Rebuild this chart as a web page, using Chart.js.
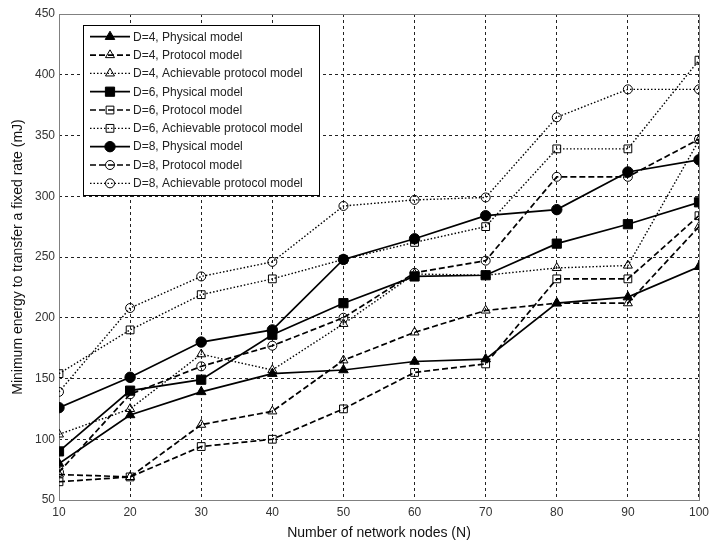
<!DOCTYPE html>
<html>
<head>
<meta charset="utf-8">
<script src="https://cdn.jsdelivr.net/npm/chart.js@4/dist/chart.umd.min.js"></script>
<style>
  html, body { margin: 0; padding: 0; background: #fff; }
</style>
</head>
<body>
<canvas id="myChart" width="714" height="544"></canvas>
<script>
// number of network nodes (x)
const nodes = [10, 20, 30, 40, 50, 60, 70, 80, 90, 100];
const yTicks = [50, 100, 150, 200, 250, 300, 350, 400, 450];

// minimum energy (mJ)
const d4Physical   = [80, 120, 139, 154, 157, 164, 166, 212, 217, 242];
const d4Protocol   = [71, 69, 112, 123, 165, 188, 206, 212, 212, 275];
const d4Achievable = [104, 125, 170, 157, 195, 236, 235, 241, 243, 346];
const d6Physical   = [90, 140, 149, 186, 212, 234, 235, 261, 277, 295];
const d6Protocol   = [65, 69, 94, 100, 125, 155, 162, 232, 232, 284];
const d6Achievable = [154, 190, 219, 232, 248, 262, 275, 339, 339, 412];
const d8Physical   = [126, 151, 180, 190, 248, 265, 284, 289, 320, 330];
const d8Protocol   = [73, 137, 160, 177, 200, 237, 247, 316, 316, 347];
const d8Achievable = [139, 208, 234, 246, 292, 297, 299, 365, 388, 388];

const FONT = '"Liberation Sans", Arial, sans-serif';
const solid = [], dashed = [6, 3], dotted = [1.5, 2];

function series(label, values, dash, style, filled) {
    let r;
    if (style === 'rect') r = filled ? 6.5 : 5.5;
    else if (style === 'triangle') r = filled ? 5.5 : 5.2;
    else r = filled ? 5.2 : 4.5;
    return {
        label: label,
        data: nodes.map((n, i) => ({ x: n, y: values[i] })),
        borderColor: '#000',
        borderWidth: dash === dotted ? 1.4 : 1.7,
        borderDash: dash,
        pointStyle: style,
        pointRadius: r,
        pointBorderWidth: 1,
        pointBorderColor: '#000',
        pointBackgroundColor: filled ? '#000' : 'rgba(0,0,0,0)',
        tension: 0,
        fill: false
    };
}

// white legend box with line samples, drawn inside the plot
const legendBox = {
    id: 'legendBox',
    afterDatasetsDraw(chart) {
        const ctx = chart.ctx;
        const x0 = 83, y0 = 25, w = 236, h = 170;
        ctx.save();
        ctx.fillStyle = '#fff';
        ctx.fillRect(x0, y0, w, h);
        ctx.strokeStyle = '#000';
        ctx.lineWidth = 1;
        ctx.strokeRect(x0 + 0.5, y0 + 0.5, w, h);
        chart.data.datasets.forEach((ds, i) => {
            const y = y0 + 11.7 + i * 18.33;
            ctx.setLineDash(ds.borderDash);
            ctx.lineWidth = ds.borderWidth;
            ctx.strokeStyle = '#000';
            ctx.beginPath();
            ctx.moveTo(90, y);
            ctx.lineTo(130, y);
            ctx.stroke();
            ctx.setLineDash([]);
            ctx.fillStyle = ds.pointBackgroundColor;
            ctx.lineWidth = 1;
            Chart.helpers.drawPoint(ctx, {
                pointStyle: ds.pointStyle,
                radius: ds.pointRadius,
                rotation: 0,
                borderWidth: 1
            }, 110, y);
            ctx.fillStyle = '#222';
            ctx.font = '12px ' + FONT;
            ctx.textBaseline = 'middle';
            ctx.fillText(ds.label, 133, y + 0.5);
        });
        ctx.restore();
    }
};

// grey axes box around the plot area
const axesBox = {
    id: 'axesBox',
    beforeDatasetsDraw(chart) {
        const a = chart.chartArea, ctx = chart.ctx;
        ctx.save();
        ctx.strokeStyle = '#808080';
        ctx.lineWidth = 1;
        ctx.strokeRect(Math.round(a.left) + 0.5, Math.round(a.top) + 0.5,
            Math.round(a.right - a.left), Math.round(a.bottom - a.top));
        ctx.restore();
    }
};

Chart.defaults.font.family = FONT;
Chart.defaults.color = '#222';

const ctx = document.getElementById('myChart').getContext('2d');
const chart = new Chart(ctx, {
    type: 'line',
    data: {
        datasets: [
            series('D=4, Physical model', d4Physical, solid, 'triangle', true),
            series('D=4, Protocol model', d4Protocol, dashed, 'triangle', false),
            series('D=4, Achievable protocol model', d4Achievable, dotted, 'triangle', false),
            series('D=6, Physical model', d6Physical, solid, 'rect', true),
            series('D=6, Protocol model', d6Protocol, dashed, 'rect', false),
            series('D=6, Achievable protocol model', d6Achievable, dotted, 'rect', false),
            series('D=8, Physical model', d8Physical, solid, 'circle', true),
            series('D=8, Protocol model', d8Protocol, dashed, 'circle', false),
            series('D=8, Achievable protocol model', d8Achievable, dotted, 'circle', false)
        ]
    },
    options: {
        responsive: false,
        animation: false,
        layout: { padding: { top: 14, right: 12, left: 0, bottom: 0 } },
        plugins: {
            legend: { display: false },
            tooltip: { enabled: false }
        },
        scales: {
            x: {
                type: 'linear',
                min: 10,
                max: 100,
                afterBuildTicks: s => { s.ticks = nodes.map(v => ({ value: v })); },
                afterFit: s => { s.height = 44; },
                grid: { color: '#222', lineWidth: 1, drawTicks: false },
                border: { display: false, dash: [3, 3] },
                ticks: { padding: 5, font: { size: 12 }, color: '#333', maxRotation: 0 },
                title: {
                    display: true,
                    text: 'Number of network nodes (N)',
                    font: { size: 14 },
                    color: '#111',
                    padding: { top: 0, bottom: 2 }
                }
            },
            y: {
                min: 50,
                max: 450,
                afterBuildTicks: s => { s.ticks = yTicks.map(v => ({ value: v })); },
                afterFit: s => { s.width = 59; },
                grid: { color: '#222', lineWidth: 1, drawTicks: false },
                border: { display: false, dash: [3, 3] },
                ticks: { padding: 4, font: { size: 12 }, color: '#333' },
                title: {
                    display: true,
                    text: 'Minimum energy to transfer a fixed rate (mJ)',
                    font: { size: 14 },
                    color: '#111',
                    padding: { top: 10, bottom: 0 }
                }
            }
        }
    },
    plugins: [axesBox, legendBox]
});
</script>
</body>
</html>
